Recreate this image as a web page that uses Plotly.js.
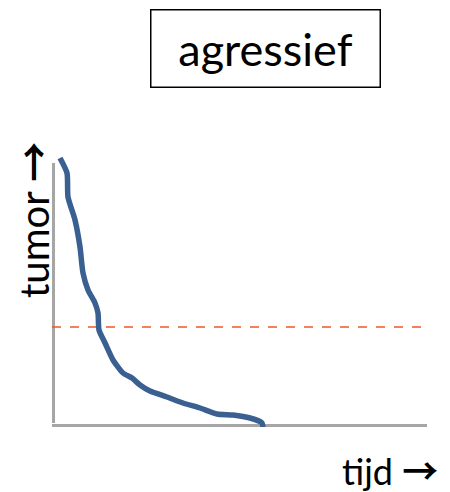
<!DOCTYPE html>
<html>
<head>
<meta charset="utf-8">
<script src="https://cdn.plot.ly/plotly-3.0.1.min.js"></script>
<style>html,body{margin:0;padding:0;background:#fff;}#chart{width:450px;height:492px;}</style>
</head>
<body>
<div id="chart"></div>
<script>
// curve: time vs tumor size (arbitrary units)
const tijd  = [8, 15, 16, 23, 28, 31, 36, 43, 46, 47, 53, 61, 71, 80, 88, 98, 115, 131, 148, 165, 181, 198, 210, 211];
const tumor = [269, 254, 230, 207, 180, 154, 137, 124, 114, 97, 84, 67, 54, 49, 42, 36, 30, 24, 19, 13, 12, 9, 4, -1];
// threshold (dashed)
const drempelX = [0, 375];
const drempelY = [100, 100];
const titel = "agressief";
const arrow = "<span style=\"font-family:'Noto Sans CJK JP';font-weight:bold\">\u2192</span>";
const yLabel = "tumor " + arrow;
const xLabel = "tijd " + arrow;

const font = "Lato, 'Open Sans', sans-serif";

const traces = [
  {x: drempelX, y: drempelY, mode: 'lines', line: {color: '#f0582c', width: 1.5, dash: 'dash'}, hoverinfo: 'skip'},
  {x: tijd, y: tumor, mode: 'lines', line: {color: '#3a5f91', width: 5.5, shape: 'spline', smoothing: 0.6}, cliponaxis: false, hoverinfo: 'skip'}
];

const layout = {
  width: 450, height: 492,
  margin: {l: 52, r: 17, t: 150, b: 65},
  paper_bgcolor: '#fff', plot_bgcolor: '#fff',
  showlegend: false,
  xaxis: {range: [0, 381], visible: false, fixedrange: true},
  yaxis: {range: [0, 277], visible: false, fixedrange: true},
  shapes: [
    {type: 'line', xref: 'x', yref: 'y', x0: 0, x1: 0, y0: 4, y1: 264, line: {color: '#a6a6a6', width: 6}, layer: 'below'},
    {type: 'line', xref: 'x', yref: 'y', x0: 0, x1: 375, y0: 0, y1: 0, line: {color: '#a6a6a6', width: 6}, layer: 'below'}
  ],
  annotations: [
    {text: titel, xref: 'paper', yref: 'paper', x: (265 - 52) / 381, y: (427 - 48) / 277, xanchor: 'center', yanchor: 'middle',
     showarrow: false, font: {family: font, size: 45, color: '#000'}, bordercolor: '#000', borderwidth: 1.5, borderpad: 4, width: 220, height: 68},
    {text: yLabel, xref: 'paper', yref: 'paper', x: (32 - 52) / 381, y: (427 - 220) / 277, xanchor: 'center', yanchor: 'middle',
     textangle: -90, showarrow: false, font: {family: font, size: 40, color: '#000'}},
    {text: xLabel, xref: 'paper', yref: 'paper', x: (440 - 52) / 381, y: (427 - 469) / 277, xanchor: 'right', yanchor: 'middle',
     showarrow: false, font: {family: font, size: 36, color: '#000'}}
  ]
};

Plotly.newPlot('chart', traces, layout, {displayModeBar: false, staticPlot: true});
</script>
</body>
</html>
